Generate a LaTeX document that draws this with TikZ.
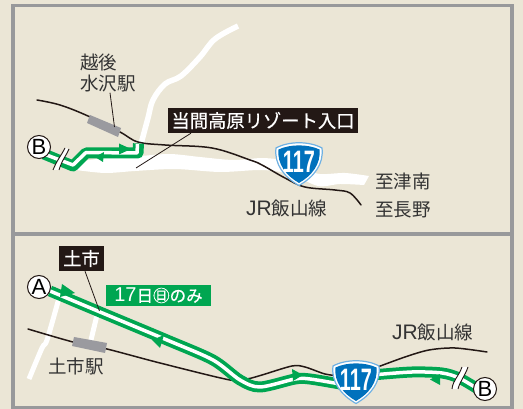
\documentclass[tikz,border=0pt]{standalone}
\usepackage{fontspec}
\setmainfont{Liberation Sans}
\newfontfamily\cjk{Noto Sans CJK JP}
\newfontfamily\cjkm[FakeBold=0.5]{Noto Sans CJK JP}
\newfontfamily\latin{Liberation Sans}
\usetikzlibrary{calc}
\definecolor{bgc}{HTML}{EBE6D6}
\definecolor{framec}{HTML}{98999B}
\definecolor{greenc}{HTML}{00A651}
\definecolor{inkc}{HTML}{231815}
\definecolor{textc}{HTML}{333333}
\definecolor{stationc}{HTML}{9A9A9F}
\definecolor{blues}{HTML}{0071BC}
\definecolor{blueo}{HTML}{6FB1E3}
\tikzset{
  panel/.style={draw=framec,line width=3.5pt},
  roadw/.style={draw=white,line width=5.5pt,line join=round},
  railway/.style={draw=inkc,line width=1.5pt,line cap=round},
  station/.style={fill=stationc},
  leader/.style={draw=inkc,line width=.8pt},
  greenband/.style={draw=greenc,line width=11pt,line join=round},
  greencore/.style={draw=white,line width=3.5pt,line join=round},
  tip/.style={fill=greenc},
  maptext/.style={inner sep=0pt,text=textc,font=\cjk\fontsize{18.5}{18.5}\selectfont,anchor=west},
  blackbox/.style={fill=inkc,text=white,inner sep=0pt,font=\cjkm\fontsize{18.3}{18.3}\selectfont,align=center},
  markc/.style={circle,draw=inkc,line width=1pt,fill=white,minimum size=23pt,inner sep=0pt,font=\latin\fontsize{22}{22}\selectfont},
  brk/.style={draw=inkc,line width=.9pt},
}
\newcommand{\routeshield}[3]{%
  \begin{scope}[shift={(#1,#2)}]
    \fill[white,draw=blueo,line width=1.2pt] (-23,-16) .. controls (-10,-23) and (10,-23) .. (23,-16)
      .. controls (25,0) and (15,13) .. (0,21.5) .. controls (-15,13) and (-25,0) .. (-23,-16) -- cycle;
    \fill[blues] (-20.5,-14.5) .. controls (-9,-20) and (9,-20) .. (20.5,-14.5)
      .. controls (22,0) and (13,11.5) .. (0,19) .. controls (-13,11.5) and (-22,0) .. (-20.5,-14.5) -- cycle;
    \node[inner sep=0pt,text=white,font=\latin\bfseries\fontsize{31}{31}\selectfont] (#3) at (0,-2) {\scalebox{.64}[1]{117}};
  \end{scope}}
\begin{document}
\begin{tikzpicture}[x=1pt,y=-1pt]
\useasboundingbox (0,0) rectangle (523,409);
\fill[bgc] (0,0) rectangle (523,409);
\draw[panel] (13,5.5) rectangle (512,407.5);
\draw[panel] (13,234) -- (512,234);

% --- upper panel: roads
\fill[white] plot[smooth,tension=.5] coordinates {(76,162)(105,158)(140,156)(170,154)(200,157)(233,160)(262,158)(285,160)}
  -- plot[smooth,tension=.5] coordinates {(285,160)(300,168)(320,174)(345,173)(369,176)}
  -- (364,185)
  -- plot[smooth,tension=.5] coordinates {(364,185)(340,184)(318,186)(290,174)(262,170)(220,172)(175,169)(135,171)(105,173)(76,170)}
  -- cycle;
\draw[roadw] plot[smooth,tension=.6] coordinates {(141,144)(148,118)(153,100)(165,84)(181,76)(200,57)(215,39)(238,26)};

% railway and station
\draw[railway] plot[smooth,tension=.6] coordinates {(37,100)(60,105)(88,116)(120,132)(138,142)(165,145)(212,148)(250,160)(262,165)(285,178)(305,187)(335,190)(350,193)(361,205)};
\fill[station] (90,115) -- (121,128) -- (118,137) -- (87,123) -- cycle;

% green route B
\coordinate (gb1) at (44,154);
\draw[greenband] (gb1) -- (73,166) -- (86,153) -- (138,153) -- (138.5,143.5);
\draw[greencore] (gb1) -- (73,165) -- (86,152.5) -- (137,153) -- (137.5,144);
\fill[tip] (119,143.5) -- (131,149) -- (119,154.5) -- cycle;
\fill[tip] (95,157) -- (104,152) -- (103,162) -- cycle;

% break mark
\fill[white] (65,148) .. controls (61,156) and (57,160) .. (53,170) -- (59,170) .. controls (62,160) and (66,156) .. (69,149) -- cycle;
\draw[brk] (65,148) .. controls (61,156) and (57,160) .. (53,170);
\draw[brk] (69,149) .. controls (66,156) and (62,160) .. (59,170);

\node[markc] (markB1) at (39,147) {B};

% labels
\node[maptext] (echigo) at (80,62) {越後};
\node[maptext] (mizusawa) at (80,84) {水沢駅};
\coordinate (stationA) at (114.5,127);
\draw[leader] (mizusawa.south -| 110,0) -- (stationA);

\node[blackbox,minimum width=190pt,minimum height=25pt] (entry) at (263,120.5) {当間高原リゾート入口};
\coordinate (entryEnd) at (136,168);
\draw[leader] (entry.south -| 191,0) -- (entryEnd);

\routeshield{299}{164}{shieldA}

\node[maptext] (tsunan) at (375,181.5) {至津南};
\node[maptext] (nagano) at (375,210) {至長野};
\node[maptext] (iiyamaA) at (246,208) {{\latin\fontsize{21}{21}\selectfont JR}飯山線};

% --- lower panel: roads
\draw[roadw,line width=5pt] plot[smooth,tension=.5] coordinates {(59,298)(47,340)(42,348)(29,379)};
\draw[roadw,line width=5pt] (97,315) -- (91,340);

% railway and station
\draw[railway] plot[smooth,tension=.5] coordinates {(28,329)(73,342)(107,349)(160,363)(230,380)(247,379)(262,375)(292,366)(305,367)(325,374)(340,376)};
\draw[railway] plot[smooth,tension=.5] coordinates {(375,368)(405,357)(429,350)(455,348)(487,352)};
\fill[station] (74,337) -- (107,343) -- (105,353) -- (72,346) -- cycle;

% green route
\draw[greenband] plot[smooth,tension=.5] coordinates {(50,291)(100,312)(167,340)(213,360)(240,380)(260,387)(295,379)(310,379)(340,384)};
\draw[greencore] plot[smooth,tension=.5] coordinates {(50,291)(100,312)(167,340)(213,360)(240,380)(260,387)(295,379)(310,379)(340,384)};
\draw[greenband] plot[smooth,tension=.5] coordinates {(372,375)(412,372)(442,373)(459,378)(478,389)};
\draw[greencore] plot[smooth,tension=.5] coordinates {(372,375)(412,372)(442,373)(459,378)(478,389)};
\fill[tip] (62,284) -- (75,293) -- (60,297) -- cycle;
\fill[tip] (152,340) -- (164,335) -- (160,348) -- cycle;
\fill[tip] (292,369) -- (303,375) -- (293,381) -- cycle;
\fill[tip] (430,379.5) -- (440,374) -- (440,385) -- cycle;

% break mark
\fill[white] (462,367) .. controls (459,376) and (453,380) .. (452,389) -- (458,389) .. controls (460,381) and (465,376) .. (468,367) -- cycle;
\draw[brk] (462,367) .. controls (459,376) and (453,380) .. (452,389);
\draw[brk] (468,367) .. controls (465,376) and (460,381) .. (458,389);

\node[markc] (markA) at (39,287) {A};
\node[markc] (markB2) at (485,389) {B};

\node[blackbox,minimum width=45pt,minimum height=25pt] (ichi) at (81.5,258.5) {土市};
\coordinate (ichiEnd) at (99.5,311);
\draw[leader] (ichi.south -| 85,0) -- (ichiEnd);

\node[fill=greenc,text=white,inner sep=0pt,minimum width=105pt,minimum height=21pt,font=\cjkm\fontsize{16.5}{16.5}\selectfont] (only) at (158.5,295.5) {{\latin\fontsize{20}{20}\selectfont 17}日㊐のみ};

\node[maptext] (ichieki) at (48,366) {土市駅};
\node[maptext] (iiyamaB) at (392,332) {{\latin\fontsize{21}{21}\selectfont JR}飯山線};

\routeshield{356}{382}{shieldB}
\end{tikzpicture}
\end{document}
